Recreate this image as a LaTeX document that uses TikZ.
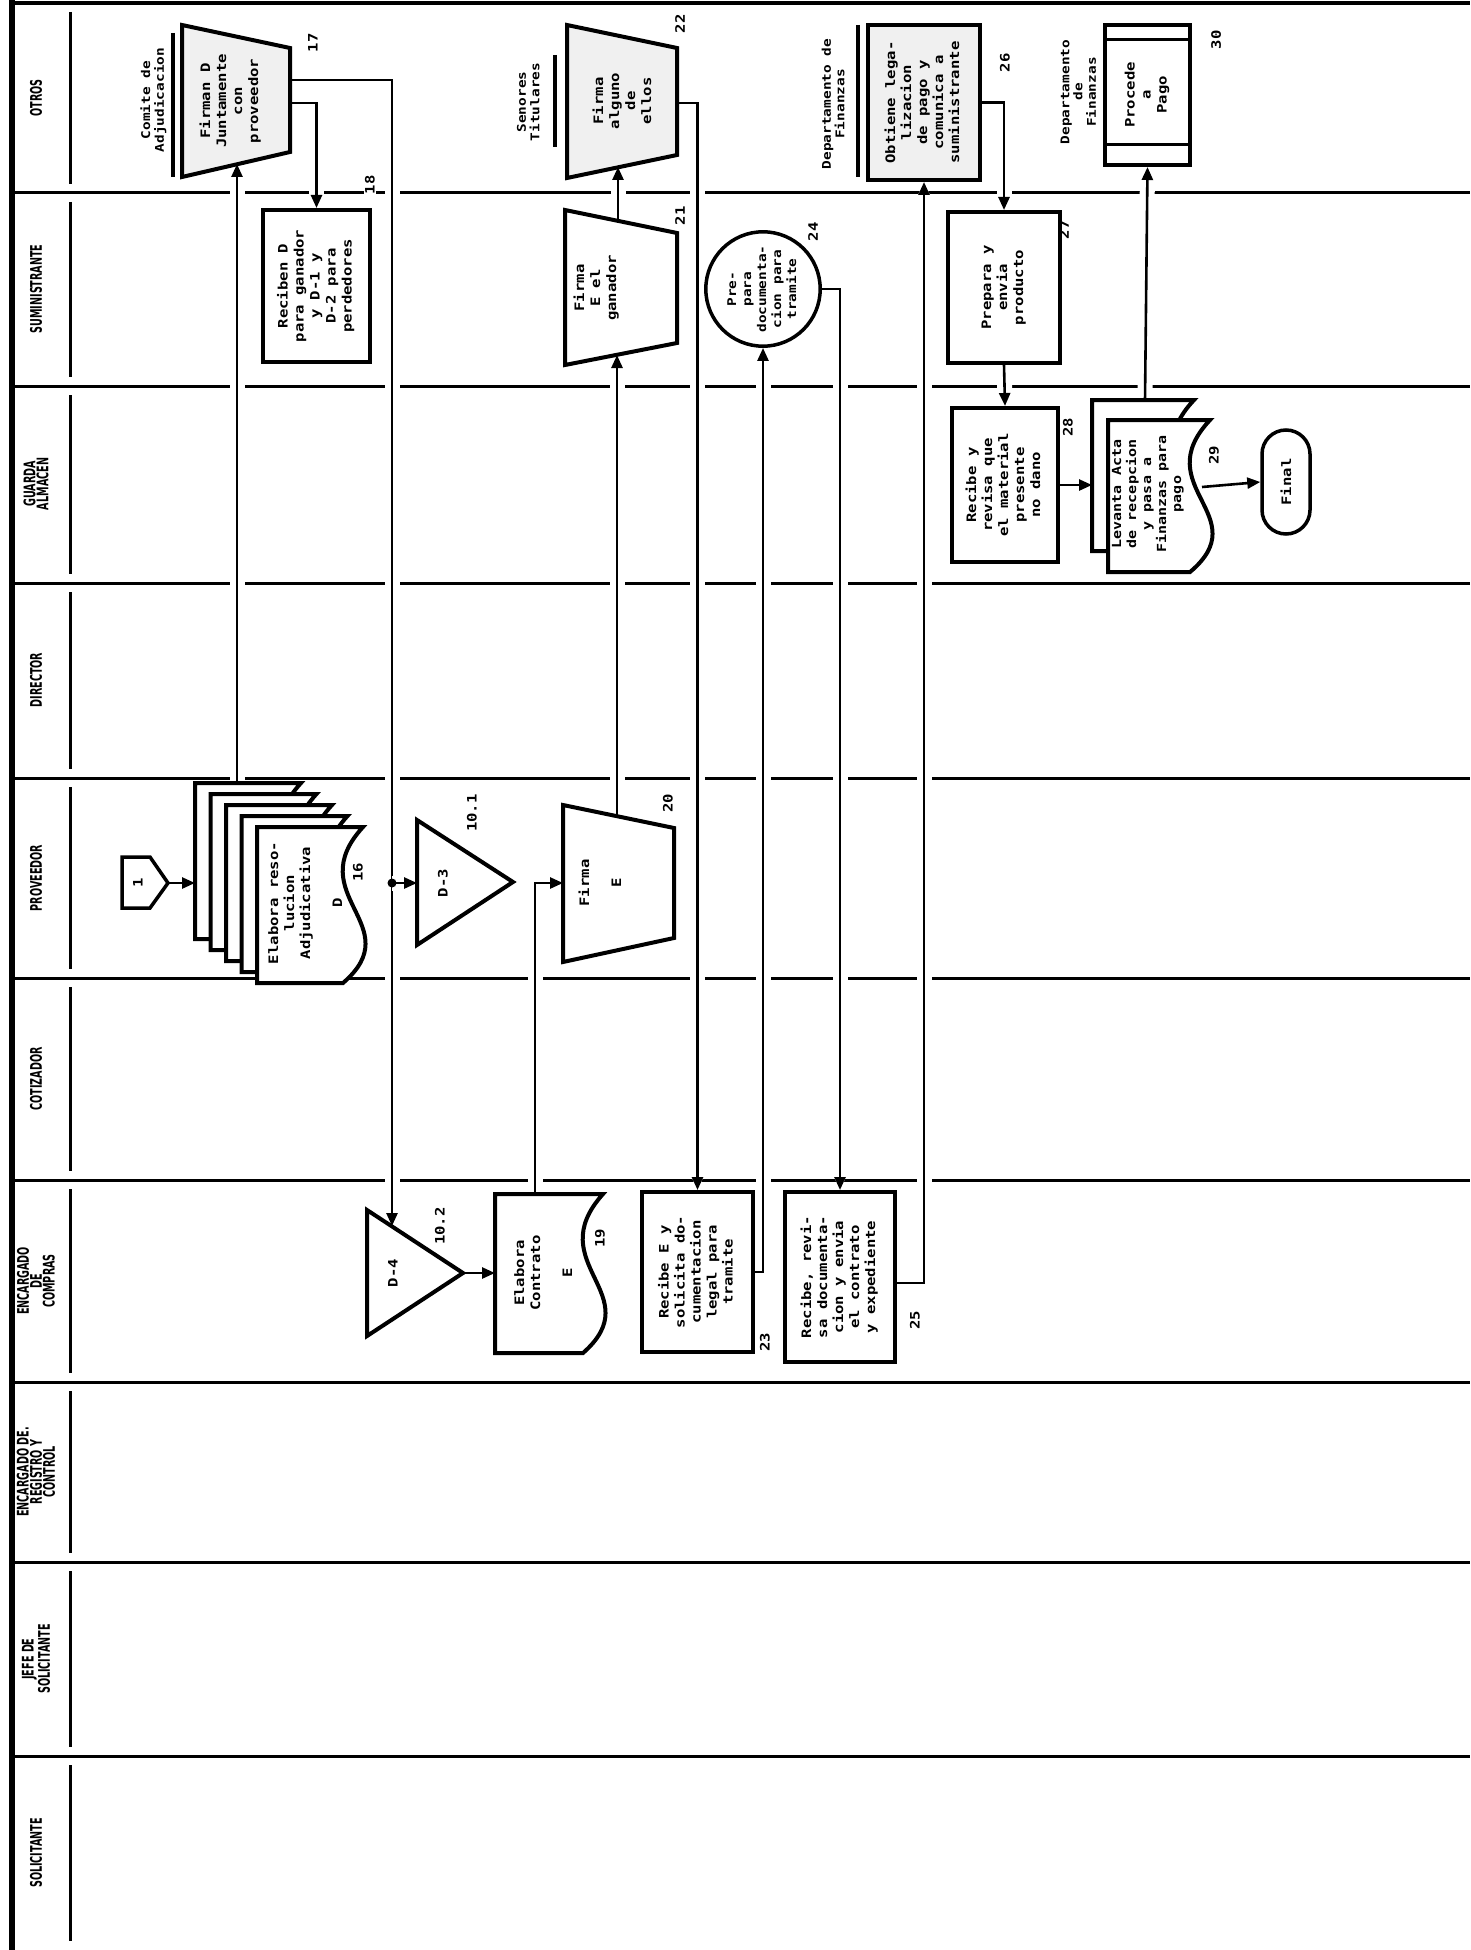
\documentclass[tikz,border=0pt]{standalone}
\usepackage{fontspec}
\usepackage{graphicx}
\usetikzlibrary{arrows.meta,calc}
\newfontfamily\dotfont[FakeStretch=1.2]{DejaVu Sans Mono}
\newfontfamily\hdrfont[FakeStretch=0.6]{DejaVu Sans}
\pgfdeclarelayer{bg}
\pgfdeclarelayer{mid}
\pgfsetlayers{bg,mid,main}
\newcommand{\rtx}[1]{\rotatebox{90}{\begin{tabular}{@{}c@{}}#1\end{tabular}}}
\newcommand{\docshape}[5]{%
  \draw[shp,fill=#5] ({#1},{#2}) -- ({#4},{#2}) .. controls ({(#4)-63},{(#2)+0.44*((#3)-(#2))}) and ({(#4)+47},{(#2)+0.63*((#3)-(#2))}) .. ({(#4)-20},{#3}) -- ({#1},{#3}) -- cycle;}
\tikzset{
  shp/.style={draw=black, line width=4pt, line join=miter, fill=white},
  boxnode/.style={draw=black, line width=4pt, fill=white, inner sep=0pt},
  txt/.style={inner sep=0pt, font=\dotfont\bfseries\fontsize{13}{16}\selectfont},
  lbl/.style={inner sep=0pt, font=\dotfont\bfseries\fontsize{12}{13}\selectfont},
  num/.style={inner sep=1pt, rotate=90, font=\dotfont\bfseries\fontsize{13}{16}\selectfont},
  hdr/.style={inner sep=0pt, rotate=90, align=center, font=\hdrfont\bfseries\fontsize{16}{11}\selectfont},
  conn/.style={line width=2.6pt, preaction={draw=white, line width=15pt}},
  arr/.style={-{Triangle[length=13pt,width=11pt]}},
  lane/.style={line width=3pt},
}
\begin{document}
\begin{tikzpicture}[x=1pt,y=-1pt]
\useasboundingbox (0,0) rectangle (1470,1950);

% ---------- frame, lanes, headers ----------
\begin{pgfonlayer}{bg}
\fill[white] (0,0) rectangle (1470,1950);
\draw[line width=4pt] (12,3) -- (1470,3);
\draw[line width=6pt] (12,0) -- (12,1950);
\foreach \y in {193,386,583,778,978,1180,1382,1562,1756} \draw[lane] (12,\y) -- (1470,\y);
\foreach \a/\b in {3/193,193/386,386/583,583/778,778/978,978/1180,1180/1382,1382/1562,1562/1756,1756/1950}
  \draw[lane] (70,\a+9) -- (70,\b-9);
\node[hdr] (hOtros) at (36,98) {OTROS};
\node[hdr] (hSumi) at (36,289) {SUMINISTRANTE};
\node[hdr] (hGuarda) at (36,484) {GUARDA\\ALMACEN};
\node[hdr] (hDir) at (36,680) {DIRECTOR};
\node[hdr] (hProv) at (36,878) {PROVEEDOR};
\node[hdr] (hCot) at (36,1079) {COTIZADOR};
\node[hdr] (hEncC) at (36,1281) {ENCARGADO\\DE\\COMPRAS};
\node[hdr] (hEncR) at (36,1472) {ENCARGADO DE.\\REGISTRO Y\\CONTROL};
\node[hdr] (hJefe) at (36,1659) {JEFE DE\\SOLICITANTE};
\node[hdr] (hSol) at (36,1853) {SOLICITANTE};
\end{pgfonlayer}

% ---------- shapes ----------
% 1 off-page connector
\draw[shp, line width=3.5pt] (122,857) -- (150,857) -- (168,883) -- (150,908) -- (122,908) -- cycle;
\node[txt] (n1) at (138,883) {\rotatebox{90}{1}};
\coordinate (n1tip) at (168,883);

% 16 multi-document
\foreach \i in {4,3,2,1,0} {
  \docshape{257-15.5*\i}{827-11*\i}{983-11*\i}{363-15.5*\i}{white}
}
\node[txt] (n16) at (307,903) {\rtx{Elabora reso-\\lucion\\Adjudicativa\\ \\D}};
\coordinate (n16in) at (195,883);
\coordinate (n16top) at (237,783);
\node[num] (l16) at (358,872) {16};

% 17 trapezoid
\draw[shp, fill=gray!12] (182,25) -- (290,48) -- (290,152) -- (182,177) -- cycle;
\node[txt] (n17) at (231,101) {\rtx{Firman D\\Juntamente\\con\\proveedor}};
\coordinate (n17bot) at (237,164);
\coordinate (n17r1) at (290,80);
\coordinate (n17r2) at (290,103);
\node[num] (l17) at (313,43) {17};
\node[lbl] (c17) at (154,100) {\rtx{Comite de\\Adjudicacion}};
\draw[line width=3.5pt] (173,33) -- (173,177);

% 18
\node[boxnode, txt, minimum width=107pt, minimum height=152pt] (n18) at (316.5,286) {\rtx{Reciben D\\para ganador\\y D-1 y\\D-2 para\\perdedores}};
\node[num, fill=white] (l18) at (370,185) {18};

% 10.1 triangle
\draw[shp] (417,820) -- (513,882) -- (417,945) -- cycle;
\node[txt] (n101) at (443,883) {\rotatebox{90}{D-3}};
\coordinate (n101in) at (417,883);
\node[num] (l101) at (472,813) {10.1};

% 20 trapezoid
\draw[shp] (563,805) -- (674,828) -- (674,938) -- (563,962) -- cycle;
\node[txt] (n20) at (602,883) {\rtx{Firma\\ \\E}};
\coordinate (n20in) at (563,883);
\coordinate (n20top) at (617,816);
\node[num] (l20) at (668,803) {20};

% 21 trapezoid
\draw[shp] (565,210) -- (677,233) -- (677,343) -- (565,365) -- cycle;
\node[txt] (n21) at (597,288) {\rtx{Firma\\E el\\ganador}};
\coordinate (n21bot) at (617,355);
\coordinate (n21top) at (618,221);
\node[num] (l21) at (680,216) {21};

% 22 trapezoid
\draw[shp, fill=gray!12] (567,25) -- (677,48) -- (677,155) -- (567,178) -- cycle;
\node[txt] (n22) at (624,101) {\rtx{Firma\\alguno\\de\\ellos}};
\coordinate (n22bot) at (618,167);
\coordinate (n22r) at (677,103);
\node[num] (l22) at (680,24) {22};
\node[lbl] (c22) at (530,102) {\rtx{Senores\\Titulares}};
\draw[line width=3.5pt] (555,55) -- (555,147);

% 10.2 triangle
\draw[shp] (367,1210) -- (463,1273) -- (367,1336) -- cycle;
\node[txt] (n102) at (393,1273) {\rotatebox{90}{D-4}};
\coordinate (n102top) at (392,1226);
\coordinate (n102apex) at (463,1273);
\node[num] (l102) at (440,1226) {10.2};

% 19 document
\docshape{495}{1194}{1353}{603}{white}
\node[txt] (n19) at (545,1273) {\rtx{Elabora\\Contrato\\ \\E}};
\coordinate (n19in) at (495,1273);
\coordinate (n19top) at (535,1194);
\node[num] (l19) at (600,1238) {19};

% 23
\node[boxnode, txt, minimum width=111pt, minimum height=160pt] (n23) at (697.5,1272) {\rtx{Recibe E y\\solicita do-\\cumentacion\\legal para\\tramite}};
\node[num] (l23) at (765,1342) {23};

% 24 circle
\node[draw, circle, line width=3.5pt, fill=white, minimum size=110pt, inner sep=0pt, font=\dotfont\bfseries\fontsize{12}{15}\selectfont] (n24) at (763,289) {\rtx{Pre-\\para\\documenta-\\cion para\\tramite}};
\node[num] (l24) at (813,232) {24};

% 25
\node[boxnode, txt, minimum width=110pt, minimum height=170pt] (n25) at (840,1277) {\rtx{Recibe, revi-\\sa documenta-\\cion y envia\\el contrato\\y expediente}};
\node[num] (l25) at (915,1320) {25};

% 26
\node[boxnode, txt, fill=gray!12, minimum width=112pt, minimum height=155pt] (n26) at (924,102.5) {\rtx{Obtiene lega-\\lizacion\\de pago y\\comunica a\\suministrante}};
\node[num] (l26) at (1005,63) {26};
\node[lbl] (c26) at (835,104) {\rtx{Departamento de\\Finanzas}};
\draw[line width=3.5pt] (858,25) -- (858,177);

% 27
\node[boxnode, txt, minimum width=112pt, minimum height=151pt] (n27) at (1004,287.5) {\rtx{Prepara y\\envia\\producto}};
\node[num] (l27) at (1064,230) {27};

% 28
\node[boxnode, txt, minimum width=106pt, minimum height=154pt] (n28) at (1005,485) {\rtx{Recibe y\\revisa que\\el material\\presente\\no dano}};
\node[num] (l28) at (1068,427) {28};

% 29 two documents
\docshape{1092}{400}{551}{1194}{white}
\docshape{1108}{420}{572}{1210}{white}
\node[txt, font=\dotfont\bfseries\fontsize{12.5}{15}\selectfont] (n29) at (1148,494) {\rtx{Levanta Acta\\de recepcion\\y pasa a\\Finanzas para\\pago}};
\coordinate (n29in) at (1092,485);
\coordinate (n29top) at (1145,400);
\coordinate (n29out) at (1202,487);
\node[num] (l29) at (1214,455) {29};

% 30 predefined process
\node[boxnode, txt, minimum width=85pt, minimum height=140pt] (n30) at (1147.5,95) {\rtx{Procede\\a\\Pago}};
\draw[line width=3pt] (n30.north west) ++(0,17) -- ++(85,0);
\draw[line width=3pt] (n30.south west) ++(0,-22) -- ++(85,0);
\node[num] (l30) at (1216,40) {30};
\node[lbl] (c30) at (1080,92) {\rtx{Departamento\\de\\Finanzas}};

% Final
\node[draw, line width=3.5pt, fill=white, rounded corners=24pt, minimum width=48pt, minimum height=104pt, inner sep=0pt, txt] (nF) at (1286,482) {\rotatebox{90}{Final}};

% junction dot
\fill (392,883) circle (4.5pt);

% ---------- connectors ----------
\begin{pgfonlayer}{mid}
\draw[conn,arr] (n1tip) -- (n16in);
\draw[conn,arr] (n16top) -- (n17bot);
\draw[conn,arr] (n17r2) -| (n18.north);
\draw[conn,arr] (n17r1) -| (n102top);
\draw[conn,arr] (392,883) -- (n101in);
\draw[conn,arr] (n102apex) -- (n19in);
\draw[conn,arr] (n19top) |- (n20in);
\draw[conn,arr] (n20top) -- (n21bot);
\draw[conn,arr] (n21top) -- (n22bot);
\draw[conn,arr] (n22r) -| (n23.north);
\draw[conn,arr] (n23.east) -| (n24.south);
\draw[conn,arr] (n24.east) -| (n25.north);
\draw[conn,arr] (n25.east) ++(0,6) -| (n26.south);
\draw[conn,arr] (n26.east) -| (n27.north);
\draw[conn,arr] (n27.south) -- (n28.north);
\draw[conn,arr] (n28.east) -- (n29in);
\draw[conn,arr] (n29top) -- (n30.south);
\draw[conn,arr] (n29out) -- (nF.west);
\end{pgfonlayer}
\end{tikzpicture}
\end{document}
